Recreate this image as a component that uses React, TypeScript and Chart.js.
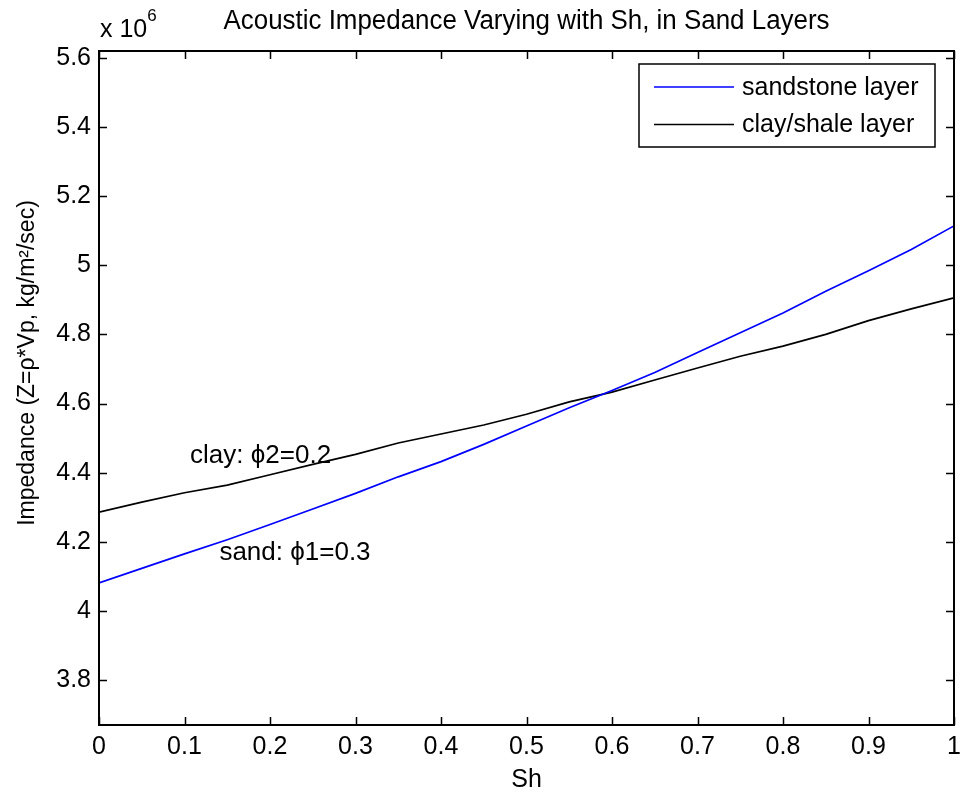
import React, { useEffect, useRef } from 'react';
import { Chart, registerables } from 'chart.js';

Chart.register(...registerables);

// Sh (hydrate saturation) sample points
const sh = [0, 0.05, 0.1, 0.15, 0.2, 0.25, 0.3, 0.35, 0.4, 0.45, 0.5, 0.55, 0.6, 0.65, 0.7, 0.75, 0.8, 0.85, 0.9, 0.95, 1];
// Impedance values, in units of 10^6 kg/m^2/sec
const sandstoneLayer = [4.081, 4.123, 4.165, 4.206, 4.25, 4.295, 4.34, 4.388, 4.432, 4.482, 4.535, 4.588, 4.638, 4.69, 4.748, 4.805, 4.862, 4.925, 4.984, 5.046, 5.114];
const clayShaleLayer = [4.286, 4.315, 4.342, 4.364, 4.394, 4.424, 4.453, 4.486, 4.512, 4.538, 4.569, 4.605, 4.633, 4.668, 4.703, 4.737, 4.766, 4.8, 4.84, 4.874, 4.906];

const seriesLabels = ['sandstone layer', 'clay/shale layer'];
const seriesColors = ['#0000ff', '#000000'];

const xTicks = [0, 0.1, 0.2, 0.3, 0.4, 0.5, 0.6, 0.7, 0.8, 0.9, 1];
const xTickLabels = ['0', '0.1', '0.2', '0.3', '0.4', '0.5', '0.6', '0.7', '0.8', '0.9', '1'];
const yTicks = [3.8, 4, 4.2, 4.4, 4.6, 4.8, 5, 5.2, 5.4, 5.6];
const yTickLabels = ['3.8', '4', '4.2', '4.4', '4.6', '4.8', '5', '5.2', '5.4', '5.6'];
const xRange = [0, 1];
const yRange = [3.67, 5.62];

const titleText = 'Acoustic Impedance Varying with Sh, in Sand Layers';
const xLabelText = 'Sh';
const yLabelText = 'Impedance (Z=\u03C1*Vp, kg/m\u00B2/sec)';
const exponentBase = 'x 10';
const exponentPower = '6';

// text annotations placed in data coordinates (left/baseline)
const noteX = [0.1065, 0.1408];
const noteY = [4.429, 4.148];
const noteText = ['clay: \u03D52=0.2', 'sand: \u03D51=0.3'];

const FONT = '"Liberation Sans", Arial, sans-serif';
const TICK_FONT_SIZE = 25;

const matlabPlugin = {
  id: 'matlabDecor',
  afterDraw(chart: any) {
    const { ctx, chartArea } = chart;
    const { left, top, right, bottom } = chartArea;
    const xs = chart.scales.x;
    const ys = chart.scales.y;
    ctx.save();

    // axes box
    ctx.strokeStyle = '#000';
    ctx.lineWidth = 2;
    ctx.strokeRect(left, top, right - left, bottom - top);

    // inward ticks on all four sides
    ctx.lineWidth = 1.5;
    const tl = 8;
    ctx.beginPath();
    xTicks.forEach((v) => {
      const px = Math.round(xs.getPixelForValue(v)) + 0.5;
      ctx.moveTo(px, bottom);
      ctx.lineTo(px, bottom - tl);
      ctx.moveTo(px, top);
      ctx.lineTo(px, top + tl);
    });
    yTicks.forEach((v) => {
      const py = Math.round(ys.getPixelForValue(v)) + 0.5;
      ctx.moveTo(left, py);
      ctx.lineTo(left + tl, py);
      ctx.moveTo(right, py);
      ctx.lineTo(right - tl, py);
    });
    ctx.stroke();

    ctx.fillStyle = '#000';

    // title (condensed to match the narrow face of the original)
    ctx.save();
    ctx.font = '27px ' + FONT;
    ctx.textAlign = 'center';
    ctx.textBaseline = 'alphabetic';
    const tw = ctx.measureText(titleText).width;
    const sx = 606 / tw;
    ctx.translate((left + right) / 2, 29);
    ctx.scale(sx, 1);
    ctx.fillText(titleText, 0, 0);
    ctx.restore();

    // exponent label
    ctx.textAlign = 'left';
    ctx.textBaseline = 'alphabetic';
    ctx.font = `${TICK_FONT_SIZE}px ${FONT}`;
    ctx.fillText(exponentBase, left + 1, top - 14);
    const w = ctx.measureText(exponentBase).width;
    ctx.font = `17px ${FONT}`;
    ctx.fillText(exponentPower, left + w + 1, top - 30);

    // x label
    ctx.font = `25px ${FONT}`;
    ctx.textAlign = 'center';
    ctx.fillText(xLabelText, (left + right) / 2, 787);

    // y label
    ctx.save();
    ctx.translate(34, 363);
    ctx.rotate(-Math.PI / 2);
    ctx.font = `23px ${FONT}`;
    ctx.textAlign = 'center';
    ctx.fillText(yLabelText, 0, 0);
    ctx.restore();

    // annotations
    ctx.font = `26px ${FONT}`;
    ctx.textAlign = 'left';
    noteText.forEach((t, i) => {
      ctx.fillText(t, xs.getPixelForValue(noteX[i]), ys.getPixelForValue(noteY[i]));
    });

    // legend
    const bx = 639, by = 64, bw = 296, bh = 83;
    ctx.fillStyle = '#fff';
    ctx.fillRect(bx, by, bw, bh);
    ctx.strokeStyle = '#000';
    ctx.lineWidth = 1.5;
    ctx.strokeRect(bx, by, bw, bh);
    const rows = [87, 124.5];
    chart.data.datasets.forEach((ds: any, i: number) => {
      ctx.strokeStyle = ds.borderColor;
      ctx.lineWidth = 1.6;
      ctx.beginPath();
      ctx.moveTo(654, rows[i]);
      ctx.lineTo(734, rows[i]);
      ctx.stroke();
      ctx.fillStyle = '#000';
      ctx.font = `${TICK_FONT_SIZE}px ${FONT}`;
      ctx.textAlign = 'left';
      ctx.textBaseline = 'middle';
      ctx.fillText(ds.label, 742, rows[i] + 1);
    });

    ctx.restore();
  },
};

export default function App() {
  const canvasRef = useRef<HTMLCanvasElement | null>(null);

  useEffect(() => {
    document.body.style.margin = '0';
    const canvas = canvasRef.current;
    if (!canvas) return;
    const chart = new Chart(canvas, {
      type: 'line',
      data: {
        datasets: [
          {
            label: seriesLabels[0],
            data: sh.map((x, i) => ({ x, y: sandstoneLayer[i] })),
            borderColor: seriesColors[0],
            backgroundColor: seriesColors[0],
            borderWidth: 1.7,
            pointRadius: 0,
            tension: 0,
            fill: false,
          },
          {
            label: seriesLabels[1],
            data: sh.map((x, i) => ({ x, y: clayShaleLayer[i] })),
            borderColor: seriesColors[1],
            backgroundColor: seriesColors[1],
            borderWidth: 1.7,
            pointRadius: 0,
            tension: 0,
            fill: false,
          },
        ],
      },
      options: {
        animation: false,
        responsive: false,
        devicePixelRatio: 1,
        layout: { padding: { top: 51, right: 7, left: 0, bottom: 0 } },
        plugins: {
          legend: { display: false },
          title: { display: false },
          tooltip: { enabled: false },
        },
        scales: {
          x: {
            type: 'linear',
            min: xRange[0],
            max: xRange[1],
            grid: { display: false, drawTicks: false },
            border: { display: false },
            afterFit: (s: any) => { s.height = 71; s.paddingLeft = 0; s.paddingRight = 0; },
            afterBuildTicks: (s: any) => { s.ticks = xTicks.map((v) => ({ value: v })); },
            ticks: {
              autoSkip: false,
              maxRotation: 0,
              padding: 7,
              color: '#000',
              font: { family: FONT, size: TICK_FONT_SIZE },
              callback: (_v: any, i: number) => xTickLabels[i],
            },
          },
          y: {
            type: 'linear',
            min: yRange[0],
            max: yRange[1],
            grid: { display: false, drawTicks: false },
            border: { display: false },
            afterFit: (s: any) => { s.width = 99; s.paddingTop = 0; s.paddingBottom = 0; },
            afterBuildTicks: (s: any) => { s.ticks = yTicks.map((v) => ({ value: v })); },
            ticks: {
              autoSkip: false,
              padding: 8,
              color: '#000',
              font: { family: FONT, size: TICK_FONT_SIZE },
              callback: (_v: any, i: number) => yTickLabels[i],
            },
          },
        },
      },
      plugins: [matlabPlugin],
    } as any);
    return () => chart.destroy();
  }, []);

  return (
    <div style={{ position: 'fixed', left: 0, top: 0, width: 961, height: 796, background: '#fff' }}>
      <canvas ref={canvasRef} width={961} height={796} style={{ display: 'block' }} />
    </div>
  );
}
